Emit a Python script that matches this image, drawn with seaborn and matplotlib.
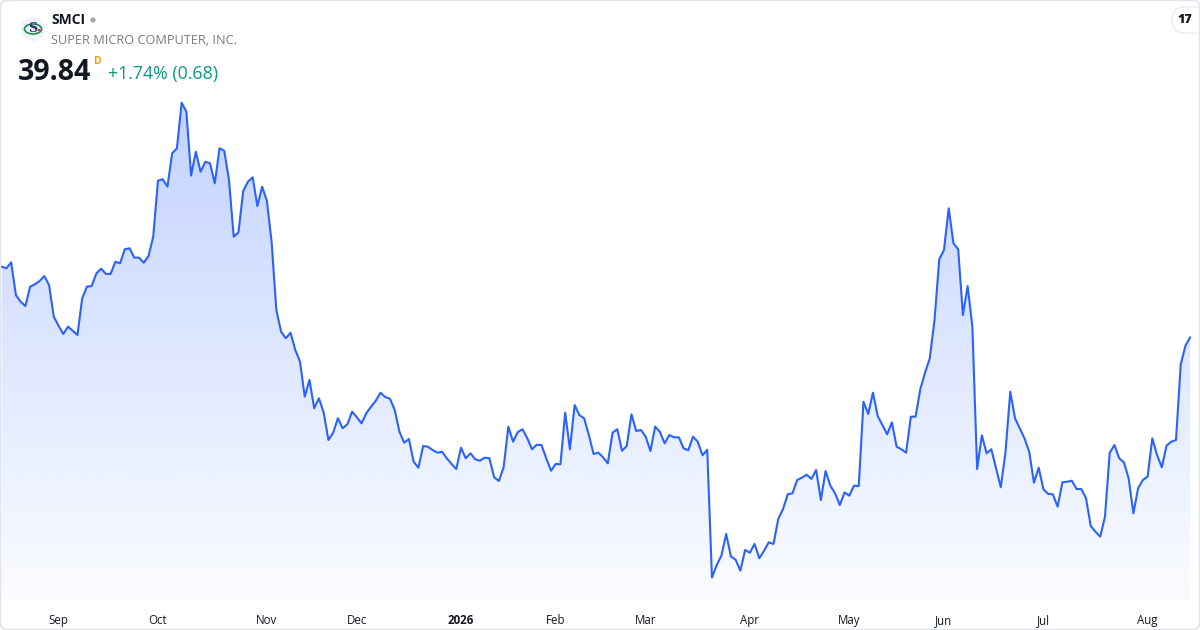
import numpy as np
import pandas as pd
import matplotlib
matplotlib.use("Agg")
import matplotlib.pyplot as plt
import seaborn as sns
from matplotlib.patches import FancyBboxPatch, Circle, Ellipse
from matplotlib.transforms import IdentityTransform


# ==========================
# Datos (cierres diarios SMCI)
# ==========================

ticker = "SMCI"
company = "SUPER MICRO COMPUTER, INC."
last_price = "39.84"
change_text = "+1.74% (0.68)"

closes = [
    45.56, 45.43, 45.91, 43.26, 42.72, 42.37, 43.94, 44.13, 44.40, 44.80,
    44.07, 41.51, 40.78, 40.11, 40.70, 40.37, 40.02, 43.00, 43.94, 43.99,
    45.02, 45.40, 44.97, 44.97, 45.96, 45.83, 46.97, 47.05, 46.29, 46.29,
    45.88, 46.42, 47.99, 52.52, 52.64, 52.04, 54.74, 55.15, 58.84, 58.11,
    52.94, 54.87, 53.25, 54.06, 53.93, 52.31, 55.15, 54.95, 52.58, 47.99,
    48.34, 51.69, 52.44, 52.80, 50.47, 52.04, 50.90, 47.56, 42.05, 40.29,
    39.76, 40.21, 38.81, 37.86, 35.03, 36.38, 34.09, 34.90, 33.73, 31.52,
    32.11, 33.28, 32.47, 32.79, 33.81, 33.36, 32.87, 33.68, 34.22, 34.70,
    35.35, 35.00, 34.86, 33.95, 32.19, 31.30, 31.60, 29.76, 29.28, 31.03,
    30.98, 30.71, 30.49, 30.57, 30.04, 29.58, 29.17, 30.90, 30.04, 30.44,
    29.96, 29.84, 30.09, 30.04, 28.50, 28.20, 29.31, 32.60, 31.38, 32.17,
    32.39, 31.66, 30.77, 31.14, 31.11, 30.04, 29.03, 29.58, 29.55, 33.73,
    30.77, 34.35, 33.54, 33.28, 31.92, 30.39, 30.49, 30.12, 29.63, 32.11,
    32.39, 30.65, 31.03, 33.60, 32.25, 32.33, 31.79, 30.63, 32.60, 32.19,
    31.25, 31.92, 31.74, 31.74, 30.85, 30.69, 31.79, 31.38, 30.28, 30.73,
    20.38, 21.39, 22.16, 23.91, 22.10, 21.82, 20.93, 22.61, 22.39, 23.10,
    21.94, 22.55, 23.23, 23.10, 25.12, 25.91, 27.12, 27.20, 28.28, 28.47,
    28.71, 28.36, 29.09, 26.66, 29.01, 27.82, 27.20, 26.25, 27.28, 27.01,
    27.82, 27.79, 34.62, 33.63, 35.35, 33.46, 32.73, 31.98, 32.95, 30.98,
    30.77, 30.49, 33.41, 33.41, 35.63, 36.97, 38.14, 41.24, 46.16, 46.91,
    50.29, 47.45, 46.97, 41.64, 43.99, 40.70, 29.17, 31.90, 30.44, 30.77,
    29.23, 27.69, 30.57, 35.43, 33.28, 32.47, 31.66, 30.57, 28.06, 29.28,
    27.53, 27.15, 27.12, 26.12, 28.09, 28.14, 28.22, 27.55, 27.55, 26.80,
    24.55, 24.09, 23.69, 25.31, 30.49, 31.11, 30.04, 29.71, 28.42, 25.58,
    27.61, 28.28, 28.55, 31.66, 30.30, 29.31, 31.06, 31.38, 31.52, 37.65,
    39.16, 39.84,
]

# festivos NYSE dentro del rango
holidays = [
    "2025-09-01", "2025-11-27", "2025-12-25", "2026-01-01", "2026-01-19",
    "2026-02-16", "2026-04-03", "2026-05-25", "2026-06-19", "2026-07-03",
]

dates = pd.bdate_range("2025-08-14", "2026-08-14", freq="C", holidays=holidays)
df = pd.DataFrame({"date": dates[:len(closes)], "close": closes})
df["pos"] = np.arange(len(df))

# primer día hábil de cada mes -> etiqueta
first_of_month = df.groupby([df["date"].dt.year, df["date"].dt.month])["pos"].min()
month_pos = [p for p in first_of_month.values if p > 0]
month_lbl = []
for p in month_pos:
    d = df.loc[p, "date"]
    month_lbl.append(str(d.year) if d.month == 1 else d.strftime("%b"))


# ==========================
# Figura
# ==========================

sns.set_theme(style="white")
plt.rcParams["font.family"] = ["Open Sans", "DejaVu Sans"]

W, H = 1200, 630
fig = plt.figure(figsize=(12, 6.3), dpi=100)
fig.patch.set_facecolor("white")

ax = fig.add_axes([0, 30 / H, 1192 / W, 510 / H])
ax.set_facecolor("white")

blue = "#2962FF"
sns.lineplot(data=df, x="pos", y="close", ax=ax, color=blue, linewidth=1.5, zorder=3)

xmin, xmax = -0.36, 251.38
ylo, yhi = 18.56, 59.87

# relleno con degradado bajo la línea
rgb = matplotlib.colors.to_rgb(blue)
grad = np.zeros((256, 1, 4))
grad[..., 0], grad[..., 1], grad[..., 2] = rgb
grad[..., 3] = np.linspace(0.29, 0.02, 256)[:, None]
im = ax.imshow(grad, extent=[xmin, xmax, ylo, yhi], aspect="auto",
               origin="upper", zorder=1, interpolation="bilinear")
poly = ax.fill_between(df["pos"], df["close"], ylo, color="none", linewidth=0)
im.set_clip_path(poly.get_paths()[0], transform=ax.transData)

ax.set_xlim(xmin, xmax)
ax.set_ylim(ylo, yhi)
ax.set_xlabel("")
ax.set_ylabel("")
ax.set_yticks([])
ax.set_xticks(month_pos)
ax.set_xticklabels(month_lbl, fontsize=8.3, color="#131722")
ax.tick_params(axis="x", length=0, pad=10)
for t in ax.get_xticklabels():
    if t.get_text().isdigit():
        t.set_fontweight("bold")
for s in ax.spines.values():
    s.set_visible(False)


# ==========================
# Cabecera
# ==========================

def fx(px):
    return px / W


def fy(py):
    return 1 - py / H


# logo
fig.add_artist(Circle((33, H - 29), 12, transform=IdentityTransform(),
                      facecolor="#eef1f7", edgecolor="none"))
fig.add_artist(Ellipse((33, H - 29), 17, 10, transform=IdentityTransform(),
                       facecolor="none", edgecolor="#1e8a4c", linewidth=1.2))
fig.text(fx(33), fy(29), "S", ha="center", va="center", fontsize=9,
         color="#1b3a7a", family="DejaVu Serif", fontweight="bold")
fig.add_artist(Circle((39, H - 30), 1.3, transform=IdentityTransform(),
                      facecolor="#e5322d", edgecolor="none"))

fig.text(fx(51), fy(20), ticker, ha="left", va="center", fontsize=10,
         fontweight="bold", color="#131722")
fig.add_artist(Circle((93, H - 20), 2.6, transform=IdentityTransform(),
                      facecolor="#a3a6af", edgecolor="none"))
fig.text(fx(51), fy(41), company, ha="left", va="center", fontsize=9.2,
         color="#787b86")

fig.text(fx(18), fy(73), last_price, ha="left", va="center", fontsize=20.5,
         fontweight="bold", color="#131722")
fig.text(fx(93), fy(61), "D", ha="left", va="center", fontsize=7.5,
         fontweight="bold", color="#ff9800")
fig.text(fx(108), fy(74), change_text, ha="left", va="center", fontsize=12.8,
         color="#089981")

# marca TV arriba a la derecha
fig.add_artist(FancyBboxPatch((1172, H - 33), 40, 26, transform=IdentityTransform(),
                              boxstyle="round,pad=0,rounding_size=13",
                              facecolor="white", edgecolor="#e6e8ee", linewidth=0.8))
fig.text(fx(1185), fy(20), "17", ha="center", va="center", fontsize=9,
         fontweight="heavy", color="#131722")

# borde de la tarjeta
fig.add_artist(FancyBboxPatch((0.5, 0.5), W - 1, H - 1, transform=IdentityTransform(),
                              boxstyle="round,pad=0,rounding_size=6",
                              facecolor="none", edgecolor="#e0e3eb", linewidth=1))

fig.savefig("out.png", dpi=100)
